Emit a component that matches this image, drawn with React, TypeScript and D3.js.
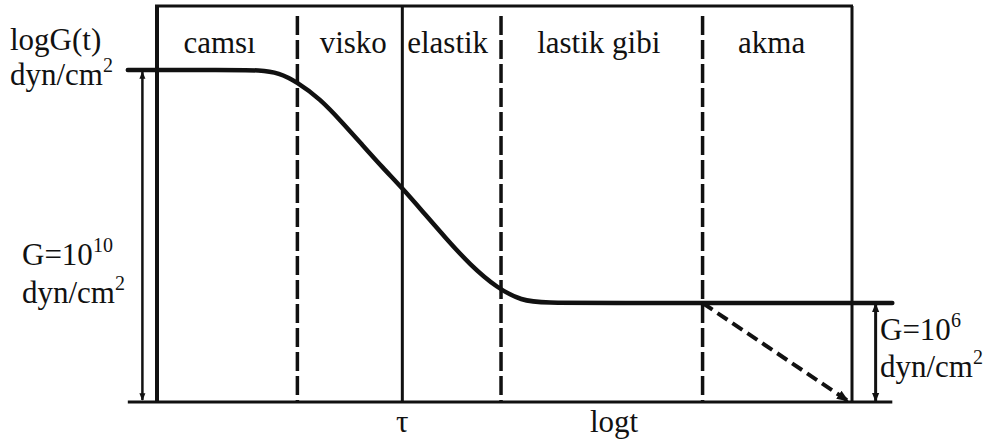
import React from "react";
import * as d3 from "d3";

// Relaxation modulus master curve: logG(t) against logt
const curveLogT = [-0.42, 1.0, 1.5, 1.75, 2.01, 2.35, 2.65, 2.95, 3.25, 3.53, 3.83, 4.15, 4.5, 4.9, 5.25, 5.55, 6.5, 10.58];
const curveLogG = [10.0, 10.0, 10.0, 9.95, 9.8, 9.5, 9.12, 8.72, 8.32, 7.97, 7.56, 7.12, 6.66, 6.25, 6.04, 6.0, 6.0, 6.0];

// Flow region (dashed decay)
const flowLogT = [7.85, 9.94];
const flowLogG = [6.0, 4.32];

// Region boundaries on the logt axis
const dashedBounds = [2.02, 4.95, 7.85];
const solidBounds = [0, 3.53, 10];

// Region names and their left edges in logt
const regionNames = ["camsı", "visko", "elastik", "lastik gibi", "akma"];
const regionStarts = [0.38, 2.34, 3.6, 5.47, 8.36];

const axisMinT = -0.42;
const axisMaxT = 10.58;
const baseLogG = 4.3;
const topLogG = 10.0;
const lowLogG = 6.0;
const frameTopLogG = 11.1;

export default function App() {
  const x = d3.scaleLinear().domain([0, 10]).range([157, 852]);
  const y = d3.scaleLinear().domain([baseLogG, topLogG]).range([402, 70]);

  const curvePts = curveLogT.map((t, i) => [t, curveLogG[i]] as [number, number]);
  const line = d3
    .line<[number, number]>()
    .x((d) => x(d[0]))
    .y((d) => y(d[1]))
    .curve(d3.curveBasis);
  const flowPts = flowLogT.map((t, i) => [t, flowLogG[i]] as [number, number]);
  const flowLine = d3
    .line<[number, number]>()
    .x((d) => x(d[0]))
    .y((d) => y(d[1]));

  const ink = "#111";
  const font = "Liberation Serif, DejaVu Serif, Noto Serif, Times New Roman, serif";
  const yTop = y(frameTopLogG);
  const yBase = y(baseLogG);
  const tx = { fontFamily: font, fontSize: 31 } as React.CSSProperties;

  return (
    <div style={{ position: "absolute", left: 0, top: 0 }}>
      <svg width={992} height={441} style={{ display: "block", background: "#fff" }} fill={ink}>
        <defs>
          <marker id="ahs" viewBox="0 0 10 10" refX="9" refY="5" markerWidth="3" markerHeight="3" orient="auto-start-reverse">
            <path d="M0,1 L10,5 L0,9 z" fill={ink} />
          </marker>
        </defs>

        {/* frame top */}
        <line x1={x(0) - 2} x2={x(10) + 1} y1={yTop} y2={yTop} stroke={ink} strokeWidth={3} />
        {/* baseline */}
        <line x1={x(axisMinT)} x2={x(axisMaxT)} y1={yBase} y2={yBase} stroke={ink} strokeWidth={3} />

        {/* solid verticals */}
        {solidBounds.map((b, i) => (
          <line key={"s" + i} x1={x(b)} x2={x(b)} y1={yTop} y2={yBase} stroke={ink} strokeWidth={i === 0 ? 4 : 3} />
        ))}
        {/* dashed verticals */}
        {dashedBounds.map((b, i) => (
          <line key={"d" + i} x1={x(b)} x2={x(b)} y1={yTop + 10} y2={yBase} stroke={ink} strokeWidth={3.5} strokeDasharray="19 5" />
        ))}

        {/* master curve */}
        <path d={line(curvePts) || ""} fill="none" stroke={ink} strokeWidth={4.5} strokeLinecap="round" />
        {/* flow decay */}
        <path d={flowLine(flowPts) || ""} fill="none" stroke={ink} strokeWidth={4} strokeDasharray="12 6" markerEnd="url(#ahs)" />

        {/* modulus arrows */}
        <line x1={x(-0.21)} x2={x(-0.21)} y1={y(topLogG) + 2} y2={yBase - 2} stroke={ink} strokeWidth={2.5} markerStart="url(#ahs)" markerEnd="url(#ahs)" />
        <line x1={x(10.34)} x2={x(10.34)} y1={y(lowLogG) + 1} y2={yBase - 1} stroke={ink} strokeWidth={3} markerStart="url(#ahs)" markerEnd="url(#ahs)" />

        {/* region labels */}
        {regionNames.map((n, i) => (
          <text key={n} x={x(regionStarts[i])} y={53} style={tx}>
            {n}
          </text>
        ))}

        {/* axis titles */}
        <text x={10} y={50} style={tx}>logG(t)</text>
        <text x={10} y={85} style={tx}>
          dyn/cm<tspan style={{ fontSize: 20 }} dy={-13}>2</tspan>
        </text>

        <text x={22} y={265} style={tx}>
          G=10<tspan style={{ fontSize: 20 }} dy={-13}>10</tspan>
        </text>
        <text x={22} y={303} style={tx}>
          dyn/cm<tspan style={{ fontSize: 20 }} dy={-13}>2</tspan>
        </text>

        <text x={880} y={340} style={tx}>
          G=10<tspan style={{ fontSize: 20 }} dy={-13}>6</tspan>
        </text>
        <text x={880} y={377} style={tx}>
          dyn/cm<tspan style={{ fontSize: 20 }} dy={-13}>2</tspan>
        </text>

        <text x={x(3.53)} y={432} style={tx} textAnchor="middle">τ</text>
        <text x={590} y={432} style={tx}>logt</text>
      </svg>
    </div>
  );
}
